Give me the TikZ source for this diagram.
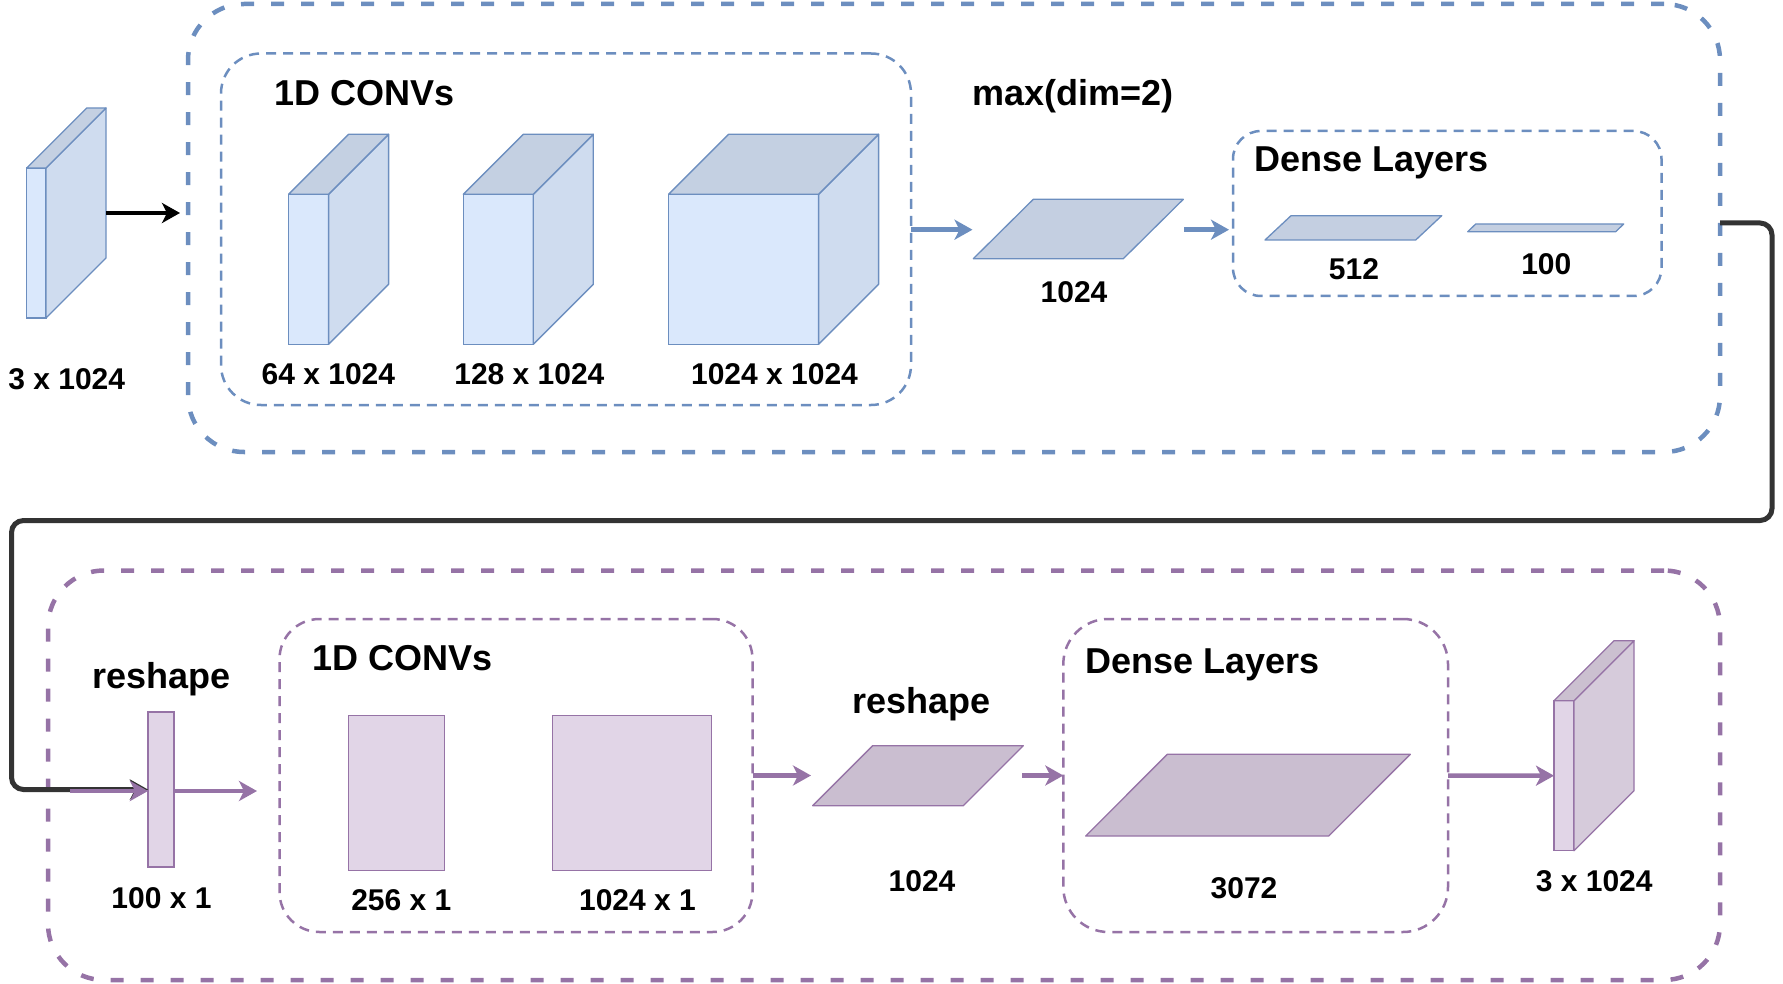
\documentclass[tikz,border=0pt]{standalone}
\usepackage{fontspec}
\setmainfont{Liberation Sans}
\usetikzlibrary{arrows.meta}
\definecolor{bline}{HTML}{6C8EBF}
\definecolor{bfront}{HTML}{DAE8FC}
\definecolor{bside}{HTML}{CFDCEF}
\definecolor{btop}{HTML}{C4D0E2}
\definecolor{bpar}{HTML}{C4CFE1}
\definecolor{pline}{HTML}{9673A6}
\definecolor{pfront}{HTML}{E1D5E7}
\definecolor{pside}{HTML}{D6CBDB}
\definecolor{ptop}{HTML}{CBC0D0}
\definecolor{ppar}{HTML}{CABED0}
\definecolor{conn}{HTML}{333333}
\newcommand{\mycube}[6]{%
  \node[draw=#6line, fill=#6front, line width=1.3pt, minimum width=#4pt, minimum height=#5pt, inner sep=0pt, outer sep=0pt, anchor=north west] (#1) at (#2,#3) {};
  \draw[draw=#6line, fill=#6side, line width=1.3pt, line join=round] (#1.north east) -- ++(60,-60) -- ++(0,#5) -- (#1.south east) -- cycle;
  \draw[draw=#6line, fill=#6top, line width=1.3pt, line join=round] (#1.north west) -- ++(60,-60) -- ++(#4,0) -- (#1.north east) -- cycle;
}
\newcommand{\mypara}[7]{%
  \draw[draw=#7line, fill=#7par, line width=1.3pt, line join=round] (#2,#3) -- ++(#4,0) -- ++(#6,-#5) -- ++(-#4,0) -- cycle;
  \coordinate (#1) at (#2+0.5*#4+0.5*#6, #3-0.5*#5);
}
\newcommand{\myflat}[5]{%
  \node[draw=pline, fill=pfront, line width=1.3pt, minimum width=#4pt, minimum height=#5pt, inner sep=0pt, outer sep=0pt, anchor=north west] (#1) at (#2,#3) {};
}
\begin{document}
\begin{tikzpicture}[x=1pt,y=-1pt,
  lbl/.style={font=\fontsize{30}{36}\selectfont\bfseries, anchor=base, inner sep=0pt},
  ttl/.style={font=\fontsize{36}{43}\selectfont\bfseries, anchor=base west, inner sep=0pt},
  ttlc/.style={font=\fontsize{36}{43}\selectfont\bfseries, anchor=base, inner sep=0pt},
  bigbox/.style={line width=4.5pt, dash pattern=on 13pt off 17pt, inner sep=0pt, outer sep=0pt, rounded corners=56pt},
  smallbox/.style={line width=2.5pt, dash pattern=on 10pt off 7pt, inner sep=0pt, outer sep=0pt},
  tipA/.style={-{Stealth[length=18pt,width=20pt,inset=5pt]}},
  barrow/.style={draw=bline, line width=4.5pt, tipA},
  parrow/.style={draw=pline, line width=4.5pt, tipA},
  karrow/.style={draw=black, line width=4.5pt, tipA},
  connline/.style={draw=conn, line width=5pt, rounded corners=12pt, tipA}
]
\useasboundingbox (0,0) rectangle (1783,984);

% ---------- containers ----------
\node[bigbox, draw=bline, minimum width=1532pt, minimum height=448pt] (enc) at (954,228) {};
\node[bigbox, draw=pline, minimum width=1672pt, minimum height=409.5pt] (dec) at (884,775.25) {};
\node[smallbox, draw=bline, rounded corners=40pt, minimum width=690pt, minimum height=351.5pt] (bconv) at (566,229.25) {};
\node[smallbox, draw=bline, rounded corners=28pt, minimum width=428.5pt, minimum height=165pt] (bdense) at (1447.25,213.5) {};
\node[smallbox, draw=pline, rounded corners=40pt, minimum width=473pt, minimum height=313pt] (pconv) at (516,775.5) {};
\node[smallbox, draw=pline, rounded corners=45pt, minimum width=384.7pt, minimum height=313pt] (pdense) at (1255.65,775.5) {};

% ---------- encoder shapes ----------
\mycube{inslab}{26.7}{168}{19.3}{150}{b}
\mycube{c1}{288.6}{194.3}{40}{150}{b}
\mycube{c2}{463.3}{194.3}{70}{150}{b}
\mycube{c3}{668.6}{194.3}{150}{150}{b}
\mypara{pa}{973.3}{258.7}{150}{59.4}{60}{b}
\mypara{pb}{1265}{240}{150.7}{24.3}{26}{b}
\mypara{pc}{1467.7}{231.7}{148}{7.7}{8}{b}

% ---------- decoder shapes ----------
\myflat{rs}{148}{712}{26}{155}
\myflat{f1}{348.3}{715.7}{96}{154.6}
\myflat{f2}{552.3}{715.7}{159.4}{154.6}
\mypara{pd}{812.7}{805.7}{150.6}{60}{60}{p}
\mypara{pe}{1085.7}{836}{243}{81.7}{81.6}{p}
\mycube{outslab}{1554}{700.7}{20}{150}{p}

% ---------- texts ----------
\node[lbl] (t1) at (66.7,389) {3 x 1024};
\node[ttl] (t2) at (274,105.5) {1D CONVs};
\node[lbl] (t3) at (328.4,384) {64 x 1024};
\node[lbl] (t4) at (529.4,384) {128 x 1024};
\node[lbl] (t5) at (774.5,384) {1024 x 1024};
\node[ttlc] (t6) at (1073.4,105.5) {max(dim=2)};
\node[lbl] (t7) at (1074,303) {1024};
\node[ttl] (t8) at (1254,172) {Dense Layers};
\node[lbl] (t9) at (1354,279.5) {512};
\node[lbl] (t10) at (1546.3,275) {100};

\node[ttlc] (t11) at (161.5,688.5) {reshape};
\node[lbl] (t12) at (161.5,908.5) {100 x 1};
\node[ttl] (t13) at (312,670) {1D CONVs};
\node[lbl] (t14) at (401.3,910) {256 x 1};
\node[lbl] (t15) at (637.5,910) {1024 x 1};
\node[ttlc] (t16) at (921.5,713.3) {reshape};
\node[lbl] (t17) at (922,891.7) {1024};
\node[ttl] (t18) at (1085,673.3) {Dense Layers};
\node[lbl] (t19) at (1244,898.3) {3072};
\node[lbl] (t20) at (1594.2,891.7) {3 x 1024};

% ---------- connector ends ----------
\coordinate (a0) at (106,213);
\coordinate (a1) at (180,213);
\coordinate (a2) at (972.5,229.7);
\coordinate (a3) at (1184,229.7);
\coordinate (a4) at (1229,229.7);
\coordinate (k0) at (1720,223);
\coordinate (p0) at (70,791);
\coordinate (p1) at (257,791);
\coordinate (p2) at (811,775.5);
\coordinate (p3) at (1022,775.5);

% ---------- connectors ----------
\draw[karrow] (a0) -- (a1);
\draw[barrow] (bconv.east |- a2) -- (a2);
\draw[barrow] (a3) -- (a4);
\draw[connline] (k0) -- (1772,223) -- (1772,520.5) -- (11.5,520.5) -- (11.5,789.5) -- (rs.west);
\draw[parrow] (p0) -- (rs.west |- p0);
\draw[parrow] (rs.east |- p0) -- (p1);
\draw[parrow] (pconv.east) -- (p2);
\draw[parrow] (p3) -- (pdense.west);
\draw[parrow] (pdense.east) -- (outslab.west);
\end{tikzpicture}
\end{document}
